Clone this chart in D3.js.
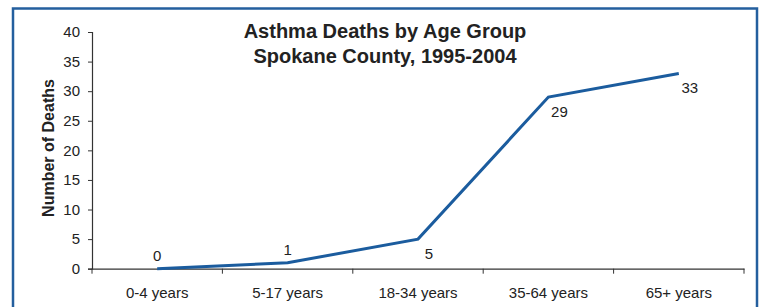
<!DOCTYPE html>
<html>
<head>
<meta charset="utf-8">
<script src="https://cdn.jsdelivr.net/npm/d3@7"></script>
<style>
  body { margin: 0; background: #fff; }
  svg { display: block; font-family: "Liberation Sans", Arial, sans-serif; }
</style>
</head>
<body>
<div id="chart"></div>
<script>
// data
var ageGroups = ["0-4 years", "5-17 years", "18-34 years", "35-64 years", "65+ years"];
var deaths = [0, 1, 5, 29, 33];
var yTicks = [0, 5, 10, 15, 20, 25, 30, 35, 40];
var titleLines = ["Asthma Deaths by Age Group", "Spokane County, 1995-2004"];

var W = 759, H = 307;
var margin = {left: 92, right: 15, top: 32, bottom: 38};
var width = 744 - margin.left;
var height = 268.7 - margin.top;

var svg = d3.select("#chart")
  .append("svg")
    .attr("width", W)
    .attr("height", H);

// blue frame
svg.append("rect")
  .attr("x", 13)
  .attr("y", 8.5)
  .attr("width", 744)
  .attr("height", 330)
  .attr("fill", "none")
  .attr("stroke", "#245f9e")
  .attr("stroke-width", 2.5);

var g = svg.append("g")
  .attr("transform", "translate(" + margin.left + "," + margin.top + ")");

var x = d3.scaleBand()
  .domain(ageGroups)
  .range([0, width]);

var y = d3.scaleLinear()
  .domain([0, 40])
  .range([height, 0]);

// y axis
var yAx = g.append("g")
  .call(d3.axisLeft(y).tickValues(yTicks).tickSize(4).tickPadding(8));
yAx.select(".domain").attr("stroke", "#333").attr("stroke-width", 1.2);
yAx.selectAll(".tick line").attr("stroke", "#333");
yAx.selectAll("text")
  .attr("fill", "#222")
  .style("font-size", "15px");

// x axis, ticks sit on the category boundaries
var xAx = g.append("g")
  .attr("transform", "translate(0," + height + ")")
  .call(d3.axisBottom(x).tickSize(0).tickPadding(19));
xAx.select(".domain").attr("stroke", "#333").attr("stroke-width", 1.2);
xAx.selectAll("text")
  .attr("fill", "#222")
  .style("font-size", "15px");
g.append("g")
  .selectAll("line")
  .data(ageGroups.concat(["end"]))
  .enter().append("line")
    .attr("x1", function(d, i) { return i * x.step(); })
    .attr("x2", function(d, i) { return i * x.step(); })
    .attr("y1", height)
    .attr("y2", height + 5)
    .attr("stroke", "#333");

// the line
var pts = ageGroups.map(function(d, i) { return [d, deaths[i]]; });
g.append("path")
  .datum(pts)
  .attr("fill", "none")
  .attr("stroke", "#1b5c9e")
  .attr("stroke-width", 3)
  .attr("stroke-linejoin", "miter")
  .attr("d", d3.line()
    .x(function(d) { return x(d[0]) + x.bandwidth() / 2; })
    .y(function(d) { return y(d[1]); })
  );

// value labels: first two above the point, rest below right
g.append("g")
  .selectAll("text")
  .data(pts)
  .enter().append("text")
    .attr("x", function(d, i) { return x(d[0]) + x.bandwidth() / 2 + (i < 2 ? 0 : 11); })
    .attr("y", function(d, i) { return y(d[1]) + (i < 2 ? -8 : 20); })
    .attr("text-anchor", "middle")
    .attr("fill", "#222")
    .style("font-size", "15px")
    .text(function(d) { return d[1]; });

// title
svg.append("g")
  .selectAll("text")
  .data(titleLines)
  .enter().append("text")
    .attr("x", 385)
    .attr("y", function(d, i) { return 38 + i * 25; })
    .attr("text-anchor", "middle")
    .attr("fill", "#222")
    .style("font-size", "20px")
    .style("font-weight", "bold")
    .text(function(d) { return d; });

// y axis title
svg.append("text")
  .attr("transform", "translate(54,148) rotate(-90)")
  .attr("text-anchor", "middle")
  .attr("fill", "#222")
  .style("font-size", "16px")
  .style("font-weight", "bold")
  .text("Number of Deaths");
</script>
</body>
</html>
